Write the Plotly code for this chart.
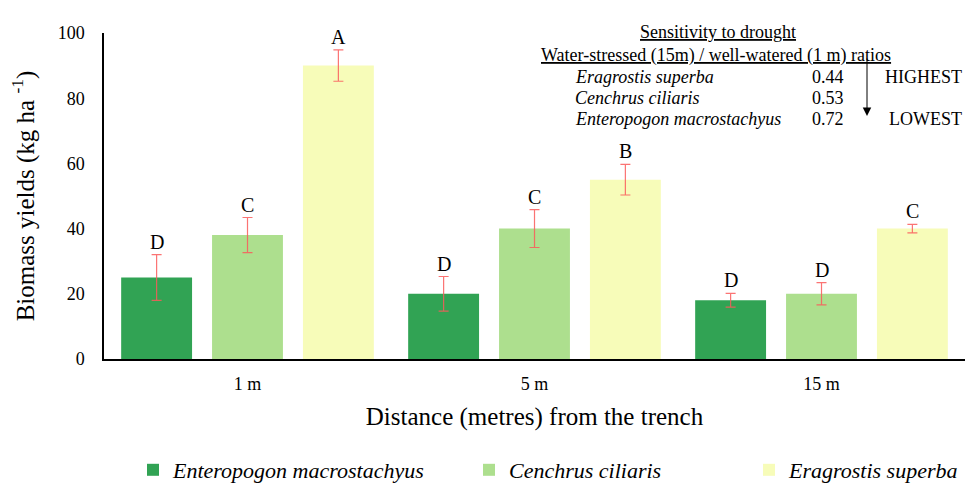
import plotly.graph_objects as go

categories = ["1 m", "5 m", "15 m"]
species = ["Enteropogon macrostachyus", "Cenchrus ciliaris", "Eragrostis superba"]
colors = ["#31a354", "#addf8e", "#f7fcb9"]

enteropogon = [25, 20, 18]
cenchrus = [38, 40, 20]
eragrostis = [90, 55, 40]
enteropogon_err = [7, 5.3, 2.1]
cenchrus_err = [5.4, 5.8, 3.4]
eragrostis_err = [4.8, 4.7, 1.3]
enteropogon_letters = ["D", "D", "D"]
cenchrus_letters = ["C", "C", "D"]
eragrostis_letters = ["A", "B", "C"]

ratio_species = ["Eragrostis superba", "Cenchrus ciliaris", "Enteropogon macrostachyus"]
ratio_values = ["0.44", "0.53", "0.72"]

values = [enteropogon, cenchrus, eragrostis]
errors = [enteropogon_err, cenchrus_err, eragrostis_err]
letters = [enteropogon_letters, cenchrus_letters, eragrostis_letters]

FONT = "Liberation Serif, Times New Roman, serif"
BARGAP = 0.05
GROUPGAP = 0.22
legend_ids = ["legend", "legend2", "legend3"]
legend_x = [133, 469, 749]

fig = go.Figure()
for s, name in enumerate(species):
    fig.add_trace(go.Bar(
        x=categories, y=values[s], name=f"<i>{name}</i>", legend=legend_ids[s],
        marker=dict(color=colors[s], line=dict(width=0)),
        error_y=dict(type="data", array=errors[s], color="rgba(250,90,90,0.85)",
                     thickness=1.2, width=5),
    ))

annotations = []
slot = (1 - BARGAP) / len(species)
for s in range(len(species)):
    for i in range(len(categories)):
        annotations.append(dict(
            x=i + (s - 1) * slot, y=values[s][i] + errors[s][i], xref="x", yref="y",
            text=letters[s][i], showarrow=False, xanchor="center", yanchor="bottom", yshift=0,
            font=dict(family=FONT, size=20, color="black")))

def px(x):
    return (x - 104) / 861

def py(y):
    return (359 - y) / 326

AF = dict(family=FONT, size=18, color="black")
annotations.append(dict(x=px(718), y=py(20), xref="paper", yref="paper", xanchor="center",
                        text="<u>Sensitivity to drought</u>", showarrow=False, font=AF))
annotations.append(dict(x=px(716), y=py(43), xref="paper", yref="paper", xanchor="center",
                        text="<u>Water-stressed (15m) / well-watered (1 m) ratios</u>",
                        showarrow=False, font=AF))
rows_y = [65, 86, 107]
for k in range(3):
    annotations.append(dict(x=px(573), y=py(rows_y[k]), xref="paper", yref="paper",
                            text=f"<i>{ratio_species[k]}</i>", showarrow=False, xanchor="left",
                            font=AF))
    annotations.append(dict(x=px(828), y=py(rows_y[k]), xref="paper", yref="paper",
                            xanchor="center", text=ratio_values[k], showarrow=False, font=AF))
annotations.append(dict(x=px(883), y=py(65), xref="paper", yref="paper", text="HIGHEST",
                        showarrow=False, xanchor="left", font=AF))
annotations.append(dict(x=px(887), y=py(107), xref="paper", yref="paper", text="LOWEST",
                        showarrow=False, xanchor="left", font=AF))
annotations.append(dict(x=px(867), y=py(116), xref="paper", yref="paper", text="",
                        showarrow=True, ax=0, ay=-59, arrowhead=2, arrowsize=1.7,
                        arrowwidth=1, arrowcolor="black"))

legends = {}
for s, lid in enumerate(legend_ids):
    legends[lid] = dict(orientation="h", x=legend_x[s] / 965, xanchor="left", xref="container",
                        y=(484 - 470) / 484, yanchor="middle", yref="container",
                        font=dict(family=FONT, size=22, color="black"),
                        bgcolor="rgba(0,0,0,0)")

fig.update_layout(
    width=965, height=484,
    margin=dict(l=104, r=0, t=33, b=125),
    paper_bgcolor="white", plot_bgcolor="white",
    barmode="group", bargap=BARGAP, bargroupgap=GROUPGAP,
    font=dict(family=FONT, color="black"),
    showlegend=True,
    annotations=annotations,
    **legends,
)
fig.update_xaxes(showline=True, linecolor="black", linewidth=1.5, ticks="",
                 tickfont=dict(family=FONT, size=18, color="black"), ticklabelstandoff=8,
                 title=dict(text="Distance (metres) from the trench",
                            font=dict(family=FONT, size=25, color="black"), standoff=14))
fig.update_yaxes(range=[0, 100], dtick=20, showline=True, linecolor="black", linewidth=1.5,
                 showgrid=False, zeroline=False, ticks="",
                 tickfont=dict(family=FONT, size=18, color="black"), ticklabelstandoff=14,
                 title=dict(text="Biomass yields (kg ha <sup>-1</sup>)",
                            font=dict(family=FONT, size=25, color="black"), standoff=16))

fig.write_html("out.html", config={"displayModeBar": False},
               post_script="document.body.style.margin='0';")
